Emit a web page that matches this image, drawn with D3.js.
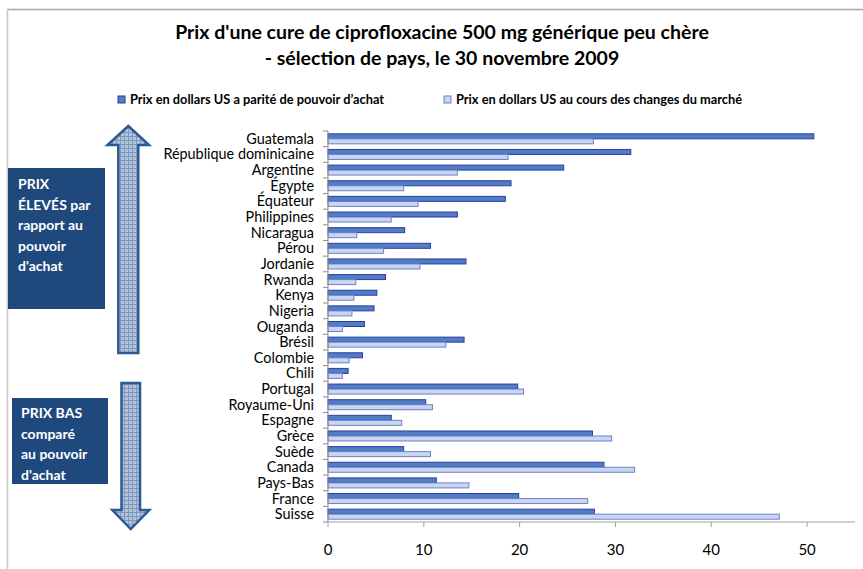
<!DOCTYPE html>
<html>
<head>
<meta charset="utf-8">
<script src="https://cdn.jsdelivr.net/npm/d3@7"></script>
<style>
  body { margin: 0; background: #fff; }
  svg { display: block; }
</style>
</head>
<body>
<svg id="chart" width="863" height="569"></svg>
<script>
var countries = ["Guatemala", "République dominicaine", "Argentine", "Égypte", "Équateur",
    "Philippines", "Nicaragua", "Pérou", "Jordanie", "Rwanda", "Kenya", "Nigeria", "Ouganda",
    "Brésil", "Colombie", "Chili", "Portugal", "Royaume-Uni", "Espagne", "Grèce", "Suède",
    "Canada", "Pays-Bas", "France", "Suisse"];
var pppValues = [50.7, 31.6, 24.6, 19.1, 18.5, 13.5, 8.0, 10.7, 14.4, 6.0, 5.1, 4.8, 3.8,
    14.2, 3.6, 2.1, 19.8, 10.2, 6.6, 27.6, 7.9, 28.8, 11.3, 19.9, 27.8];
var marketValues = [27.7, 18.8, 13.5, 7.9, 9.4, 6.6, 3.0, 5.8, 9.6, 2.9, 2.7, 2.5, 1.5,
    12.3, 2.2, 1.5, 20.4, 10.9, 7.7, 29.6, 10.7, 32.0, 14.7, 27.1, 47.1];
var seriesNames = ["Prix en dollars US a parité de pouvoir d\u2019achat",
    "Prix en dollars US au cours des changes du marché"];
var xTicks = [0, 10, 20, 30, 40, 50];
var titleLines = ["Prix d'une cure de ciprofloxacine 500 mg générique peu chère",
    "- sélection de pays, le 30 novembre 2009"];
var highText = ["PRIX", "ÉLEVÉS par", "rapport au", "pouvoir", "d'achat"];
var lowText = ["PRIX BAS", "comparé", "au pouvoir", "d'achat"];

var font = "Lato, 'Open Sans', sans-serif";
var darkFill = "#4f7dc6", darkStroke = "#2d3c9c";
var lightFill = "#c8d6f2", lightStroke = "#6f80c6";

var svg = d3.select("svg#chart"),
    margin = { left: 328, top: 131, right: 8 },
    plotRight = 855,
    plotBottom = 522;

// frame lines
svg.append("line").attr("x1", 7).attr("x2", 863).attr("y1", 9.5).attr("y2", 9.5)
    .style("stroke", "#a6a6a6").style("stroke-width", 1.5);
svg.append("line").attr("x1", 7.5).attr("x2", 7.5).attr("y1", 9).attr("y2", 569)
    .style("stroke", "#c8c8c8").style("stroke-width", 1.5);

// title
svg.append("g").selectAll("text")
    .data(titleLines)
    .enter()
    .append("text")
    .attr("x", 442)
    .attr("y", (d, i) => 39 + i * 26)
    .attr("text-anchor", "middle")
    .attr("font-family", font)
    .attr("font-weight", "bold")
    .attr("font-size", "19.5px")
    .attr("fill", "#000")
    .text(d => d);

// legend
var legendX = [118, 444];
var legend = svg.append("g").selectAll("g")
    .data(seriesNames)
    .enter()
    .append("g")
    .attr("transform", (d, i) => "translate(" + legendX[i] + ", 96)");
legend.append("rect")
    .attr("width", 7).attr("height", 7)
    .attr("fill", (d, i) => i == 0 ? darkFill : lightFill)
    .attr("stroke", (d, i) => i == 0 ? darkStroke : lightStroke);
legend.append("text")
    .attr("x", 12).attr("y", 8)
    .attr("font-family", font)
    .attr("font-weight", "bold")
    .attr("font-size", "12.8px")
    .text(d => d);

// scales
var x_scale = d3.scaleLinear().domain([0, 55]).range([margin.left, plotRight]);
var y_scale = d3.scaleBand().domain(countries).range([margin.top, plotBottom]);
var bandH = y_scale.bandwidth(), barH = 5;

var g = svg.append("g");

// bars
var rows = g.selectAll(".row")
    .data(countries)
    .enter()
    .append("g")
    .attr("class", "row");

rows.append("rect")
    .attr("x", x_scale(0))
    .attr("y", d => y_scale(d) + bandH / 2 - barH)
    .attr("width", (d, i) => x_scale(pppValues[i]) - x_scale(0))
    .attr("height", barH)
    .attr("fill", darkFill)
    .attr("stroke", darkStroke)
    .attr("stroke-width", 1);

rows.append("rect")
    .attr("x", x_scale(0))
    .attr("y", d => y_scale(d) + bandH / 2)
    .attr("width", (d, i) => x_scale(marketValues[i]) - x_scale(0))
    .attr("height", barH)
    .attr("fill", lightFill)
    .attr("stroke", lightStroke)
    .attr("stroke-width", 1);

// y axis
var yAxis = g.append("g");
yAxis.append("line")
    .attr("x1", margin.left).attr("x2", margin.left)
    .attr("y1", margin.top).attr("y2", plotBottom)
    .style("stroke", "#8c8c8c");
yAxis.selectAll(".tick")
    .data(countries.concat(["end"]))
    .enter()
    .append("line")
    .attr("x1", margin.left - 5).attr("x2", margin.left)
    .attr("y1", (d, i) => margin.top + i * bandH)
    .attr("y2", (d, i) => margin.top + i * bandH)
    .style("stroke", "#8c8c8c");
yAxis.selectAll("text")
    .data(countries)
    .enter()
    .append("text")
    .attr("x", margin.left - 14)
    .attr("y", d => y_scale(d) + bandH / 2 + 5)
    .attr("text-anchor", "end")
    .attr("font-family", font)
    .attr("font-size", "14.4px")
    .attr("fill", "#000")
    .text(d => d);

// x axis
var xAxis = g.append("g");
xAxis.append("line")
    .attr("x1", margin.left).attr("x2", plotRight)
    .attr("y1", plotBottom).attr("y2", plotBottom)
    .style("stroke", "#a0a0a0");
xAxis.selectAll(".tick")
    .data(xTicks)
    .enter()
    .append("line")
    .attr("x1", d => x_scale(d)).attr("x2", d => x_scale(d))
    .attr("y1", plotBottom).attr("y2", plotBottom + 5)
    .style("stroke", "#a0a0a0");
xAxis.selectAll("text")
    .data(xTicks)
    .enter()
    .append("text")
    .attr("x", d => x_scale(d))
    .attr("y", 555)
    .attr("text-anchor", "middle")
    .attr("font-family", font)
    .attr("font-size", "15px")
    .attr("fill", "#000")
    .text(d => d);

// arrow pattern
var defs = svg.append("defs");
var pat = defs.append("pattern")
    .attr("id", "grid")
    .attr("patternUnits", "userSpaceOnUse")
    .attr("width", 4).attr("height", 4);
pat.append("rect").attr("width", 4).attr("height", 4).attr("fill", "#b3c3dc");
pat.append("path").attr("d", "M0,0.5H4M0.5,0V4")
    .attr("stroke", "#7d97c0").attr("stroke-width", 1);

var arrowStroke = "#2c5a8f";
// up arrow
svg.append("path")
    .attr("d", "M128.3,126 L149,145 L138.3,145 L138.3,353 L118.3,353 L118.3,145 L107.5,145 Z")
    .attr("fill", "url(#grid)")
    .attr("stroke", arrowStroke)
    .attr("stroke-width", 2.5)
    .attr("stroke-linejoin", "miter");
// down arrow
svg.append("path")
    .attr("d", "M121.5,383 L140,383 L140,510 L149.3,510 L130.7,529 L112.3,510 L121.5,510 Z")
    .attr("fill", "url(#grid)")
    .attr("stroke", arrowStroke)
    .attr("stroke-width", 2.5)
    .attr("stroke-linejoin", "miter");

// text boxes
var boxColor = "#1f497d";
function drawBox(x, y, w, h, lines, tx, ty) {
    svg.append("rect")
        .attr("x", x).attr("y", y).attr("width", w).attr("height", h)
        .attr("fill", boxColor);
    svg.append("g").selectAll("text")
        .data(lines)
        .enter()
        .append("text")
        .attr("x", tx)
        .attr("y", (d, i) => ty + i * 20.5)
        .attr("font-family", font)
        .attr("font-weight", "bold")
        .attr("font-size", "14px")
        .attr("fill", "#fff")
        .text(d => d);
}
drawBox(8, 168, 97, 141, highText, 18, 189);
drawBox(12, 398, 96, 86, lowText, 21, 418);
</script>
</body>
</html>
